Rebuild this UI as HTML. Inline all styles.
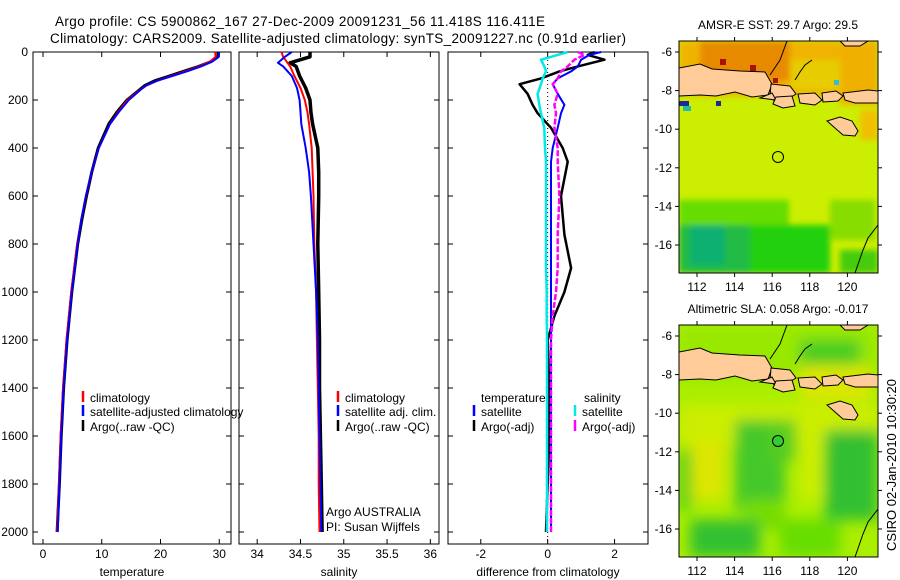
<!DOCTYPE html>
<html><head><meta charset="utf-8">
<style>
html,body{margin:0;padding:0;background:#fff;}
svg{display:block;font-family:"Liberation Sans",sans-serif;}
</style></head>
<body>
<svg id="root" width="900" height="580" viewBox="0 0 900 580" xmlns="http://www.w3.org/2000/svg">
<text x="55" y="26" font-size="13.5" textLength="490">Argo profile: CS 5900862_167 27-Dec-2009 20091231_56 11.418S 116.411E</text>
<text x="50" y="43" font-size="13.5" textLength="576">Climatology: CARS2009. Satellite-adjusted climatology: synTS_20091227.nc (0.91d earlier)</text>
<g id="panels"></g>

<!-- maps -->
<defs>
<clipPath id="clipTop"><rect x="679" y="41" width="199" height="232"/></clipPath>
<clipPath id="clipBot"><rect x="679" y="325" width="199" height="232"/></clipPath>
<filter id="blur6"><feGaussianBlur stdDeviation="7"/></filter>
<filter id="blur3"><feGaussianBlur stdDeviation="3"/></filter>
</defs>
<g clip-path="url(#clipTop)">
<rect x="679" y="41" width="199" height="232" fill="#ccee00"/>
<g filter="url(#blur3)">
<rect x="679" y="41" width="199" height="55" fill="#f0b400"/>
<rect x="700" y="41" width="90" height="40" fill="#e88a00"/>
<rect x="790" y="60" width="88" height="30" fill="#e6cc00"/>
<rect x="840" y="45" width="38" height="60" fill="#f0b000"/>
<rect x="860" y="110" width="18" height="30" fill="#f0c000"/>
<rect x="679" y="215" width="75" height="58" fill="#22bb44"/>
<rect x="690" y="225" width="35" height="40" fill="#10b070"/>
<rect x="750" y="225" width="80" height="48" fill="#22d011"/>
<rect x="679" y="200" width="110" height="25" fill="#66dd00"/>
<rect x="830" y="200" width="45" height="40" fill="#88dd00"/>
<rect x="840" y="250" width="38" height="23" fill="#44cc11"/>
</g>
<rect x="679" y="101" width="10" height="5" fill="#1a2a9a"/>
<rect x="683" y="106" width="8" height="5" fill="#22bbaa"/>
<rect x="716" y="101" width="5" height="5" fill="#1a2a9a"/>
<rect x="713" y="88" width="6" height="4" fill="#ffffff"/>
<rect x="834" y="80" width="5" height="5" fill="#33bbdd"/>
<rect x="720" y="59" width="6" height="6" fill="#aa1100"/>
<rect x="750" y="65" width="6" height="6" fill="#aa1100"/>
<rect x="773" y="78" width="5" height="5" fill="#aa1100"/>
<g id="landTop"></g>
<circle cx="778" cy="157" r="5.5" fill="none" stroke="#000"/>
</g>
<g clip-path="url(#clipBot)">
<rect x="679" y="325" width="199" height="232" fill="#aaee00"/>
<g filter="url(#blur6)">
<rect x="679" y="325" width="199" height="55" fill="#99e800"/>
<rect x="800" y="340" width="60" height="40" fill="#44cc22"/>
<rect x="679" y="405" width="199" height="40" fill="#ccee00"/>
<rect x="690" y="440" width="35" height="60" fill="#dde600"/>
<rect x="679" y="450" width="12" height="60" fill="#44cc22"/>
<rect x="735" y="420" width="50" height="90" fill="#44c82a"/>
<rect x="745" y="500" width="40" height="30" fill="#77dd00"/>
<rect x="768" y="420" width="28" height="40" fill="#55cc22"/>
<rect x="800" y="430" width="22" height="70" fill="#ccee00"/>
<rect x="825" y="430" width="53" height="90" fill="#33c030"/>
<rect x="690" y="520" width="70" height="37" fill="#33c030"/>
<rect x="780" y="520" width="60" height="37" fill="#66dd00"/>
<rect x="800" y="365" width="70" height="35" fill="#dde600"/>
</g>
<g id="landBot"></g>
<circle cx="778" cy="441" r="5.5" fill="#33cc33" stroke="#000"/>
</g>
<g id="mapAxes"></g>
<text transform="translate(896,465) rotate(-90)" text-anchor="middle" font-size="13">CSIRO 02-Jan-2010 10:30:20</text>
</svg>
<script>
// ---- profile data ----
const depthT = [0,20,40,60,80,100,120,140,160,200,250,300,400,500,600,700,800,1000,1200,1400,1600,1800,2000];
const tempArgo = [29.8,29.8,28.6,26.5,24.0,21.5,19.0,17.3,16.3,14.3,12.6,11.2,9.4,8.3,7.4,6.6,5.9,4.9,4.1,3.5,3.1,2.8,2.4];
const tempClim = [29.3,29.4,28.4,26.6,24.3,21.8,19.4,17.6,16.4,14.4,12.8,11.4,9.5,8.3,7.3,6.5,5.8,4.8,4.0,3.4,3.0,2.7,2.4];
const tempSat  = [30.0,29.9,28.8,26.9,24.6,22.0,19.4,17.5,16.5,14.6,12.9,11.4,9.5,8.3,7.3,6.5,5.9,4.9,4.1,3.5,3.1,2.8,2.5];
const depthS = [0,20,45,60,100,150,200,250,300,400,500,600,800,1000,1200,1400,1600,1800,2000];
const salArgo = [34.61,34.61,34.38,34.45,34.49,34.56,34.61,34.62,34.64,34.70,34.71,34.71,34.70,34.71,34.72,34.72,34.73,34.74,34.75];
const salClim = [34.28,34.30,34.35,34.38,34.43,34.50,34.55,34.58,34.60,34.63,34.64,34.65,34.66,34.68,34.69,34.70,34.71,34.71,34.72];
const salSat  = [34.40,34.32,34.24,34.30,34.40,34.46,34.49,34.50,34.51,34.56,34.60,34.62,34.65,34.68,34.70,34.71,34.72,34.73,34.74];
const depthD = [0,12,32,60,81,110,134,174,220,255,316,400,457,600,761,900,1000,1100,1200,1400,1600,1800,2000];
const diffTArgo = [1.4,1.2,1.7,0.9,0.35,-0.2,-0.84,-0.6,-0.45,-0.3,0.1,0.45,0.6,0.4,0.5,0.7,0.5,0.2,0.0,0.05,0.05,0.0,-0.05];
const diffTSat  = [1.6,1.25,1.0,0.9,0.7,0.3,0.15,0.3,0.5,0.4,0.3,0.15,0.1,0.1,0.1,0.1,0.1,0.1,0.1,0.1,0.1,0.1,0.1];
const diffSSat  = [0.6,0.3,-0.2,-0.1,-0.05,-0.15,-0.2,-0.3,-0.25,-0.2,-0.1,-0.08,-0.05,-0.05,-0.05,-0.05,-0.03,-0.03,-0.02,-0.02,-0.02,-0.02,-0.02];
const diffSArgo = [0.9,1.1,0.8,0.6,0.4,0.3,0.15,0.3,0.2,0.25,0.2,0.3,0.3,0.35,0.3,0.3,0.25,0.15,0.1,0.1,0.1,0.1,0.1];
const depthTicks = [0,200,400,600,800,1000,1200,1400,1600,1800,2000];
const tempTicks = [0,10,20,30];
const salTicks = [34,34.5,35,35.5,36];
const salTickLabels = ["34","34.5","35","35.5","36"];
const diffTicks = [-2,0,2];

const NS="http://www.w3.org/2000/svg";
const root=document.getElementById('panels');
function mk(tag,attrs,parent){const e=document.createElementNS(NS,tag);for(const k in attrs)e.setAttribute(k,attrs[k]);(parent||root).appendChild(e);return e;}
const Y0=52, Y1=544;
function yD(d){return 52 + d*0.24;}

function panel(name,x0,x1,xmin,xmax,xticks,xlabels,xtitle,showY){
  const g=mk('g',{});
  
  
  const sx=v=>x0+(v-xmin)/(xmax-xmin)*(x1-x0);
  const fr=mk('rect',{x:x0,y:Y0,width:x1-x0,height:Y1-Y0,fill:'none',stroke:'#000','stroke-width':1},g);
  
  
  depthTicks.forEach(d=>{
    const y=yD(d);
    mk('line',{x1:x0,x2:x0+5,y1:y,y2:y,stroke:'#000'},g);
    mk('line',{x1:x1,x2:x1-5,y1:y,y2:y,stroke:'#000'},g);
    if(showY){const t=mk('text',{x:x0-5,y:y+4,'font-size':12,'text-anchor':'end'},g);t.textContent=d;
      
      }
  });
  xticks.forEach((v,i)=>{
    const x=sx(v);
    mk('line',{x1:x,x2:x,y1:Y0,y2:Y0+5,stroke:'#000'},g);
    mk('line',{x1:x,x2:x,y1:Y1,y2:Y1-5,stroke:'#000'},g);
    const t=mk('text',{x:x,y:558,'font-size':12,'text-anchor':'middle'},g);t.textContent=xlabels[i];
    
    
  });
  const tt=mk('text',{x:(x0+x1)/2,y:576,'font-size':12,'text-anchor':'middle'},g);tt.textContent=xtitle;
  
  
  return {g,sx};
}
function line(p,depths,vals,color,w,name,dash){
  const pts=depths.map((d,i)=>p.sx(vals[i]).toFixed(1)+','+yD(d).toFixed(1)).join(' ');
  const a={points:pts,fill:'none',stroke:color,'stroke-width':w,'stroke-linejoin':'round'};
  if(dash)a['stroke-dasharray']=dash;
  const l=mk('polyline',a,p.g);
  
  
}
function legend(g,x,y,color,label,name){
  mk('line',{x1:x,x2:x,y1:y-6,y2:y+5,stroke:color,'stroke-width':2.5},g);
  const t=mk('text',{x:x+7,y:y+5,'font-size':12},g);t.textContent=label;
  
  
}

// temperature
const pT=panel('temperature',33,231,-1.7,32,tempTicks,tempTicks.map(String),'temperature',true);
line(pT,depthT,tempArgo,'#000',3,'argo-temperature-line');
line(pT,depthT,tempClim,'#f00',2,'climatology-temperature-line');
line(pT,depthT,tempSat,'#00f',2,'satellite-temperature-line');
legend(pT.g,83,397,'#f00','climatology','legend-climatology');
legend(pT.g,83,411,'#00f','satellite-adjusted climatology','legend-satellite-adjusted');
legend(pT.g,83,426,'#000','Argo(..raw -QC)','legend-argo');

// salinity
const pS=panel('salinity',239,439,33.79,36.1,salTicks,salTickLabels,'salinity',false);
line(pS,depthS,salArgo,'#000',3.5,'argo-salinity-line');
line(pS,depthS,salClim,'#f00',2,'climatology-salinity-line');
line(pS,depthS,salSat,'#00f',2,'satellite-salinity-line');
legend(pS.g,338,397,'#f00','climatology','legend-climatology');
legend(pS.g,338,411,'#00f','satellite adj. clim.','legend-satellite-adj');
legend(pS.g,338,426,'#000','Argo(..raw -QC)','legend-argo');
const a1=mk('text',{x:326,y:516,'font-size':12},pS.g);a1.textContent='Argo AUSTRALIA';


const a2=mk('text',{x:326,y:531,'font-size':12},pS.g);a2.textContent='PI: Susan Wijffels';



// difference
const pD=panel('difference',448,648,-2.98,3,diffTicks,diffTicks.map(String),'difference from climatology',false);
mk('line',{x1:pD.sx(0),x2:pD.sx(0),y1:Y0,y2:Y1,stroke:'#000','stroke-dasharray':'1,3'},pD.g);
line(pD,depthD,diffTArgo,'#000',2.5,'argo-temperature-diff-line');
line(pD,depthD,diffSSat,'#00e8e8',2.5,'satellite-salinity-diff-line');
line(pD,depthD,diffTSat,'#00f',2,'satellite-temperature-diff-line');
line(pD,depthD,diffSArgo,'#f0f',2.5,'argo-salinity-diff-line','6,2');
const lt=mk('text',{x:481,y:402,'font-size':12},pD.g);lt.textContent='temperature';


const ls=mk('text',{x:584,y:402,'font-size':12},pD.g);ls.textContent='salinity';


legend(pD.g,474,411,'#00f','satellite','legend-temp-satellite');
legend(pD.g,474,426,'#000','Argo(-adj)','legend-temp-argo');
legend(pD.g,575,411,'#00e8e8','satellite','legend-sal-satellite');
legend(pD.g,575,426,'#f0f','Argo(-adj)','legend-sal-argo');

// ---- maps ----
const lonTicks=[112,114,116,118,120];
const latTicks=[-6,-8,-10,-12,-14,-16];
const lx=l=>697+(l-112)*18.8;
const ly=(l,top)=>top+11+(-6-l)*19.3;
const land=[
 "679,68 700,64 712,69 740,71 765,72 772,84 768,95 752,97 735,92 716,96 700,95 679,96",
 "771,84 790,86 796,94 786,100 778,104 770,97",
 "772,93 776,100 760,98",
 "776,97 792,96 795,106 783,108 773,104",
 "798,94 815,93 822,100 815,105 800,103",
 "822,93 836,91 843,96 838,101 823,102",
 "843,93 868,90 878,91 878,103 855,103 845,100",
 "827,121 840,117 852,121 858,131 855,136 843,135 835,128",
 "840,41 868,41 860,46 845,46"
];
function drawLand(id,dy){
  const g=document.getElementById(id);
  land.forEach(p=>{
    const pts=p.split(' ').map(s=>{const [x,y]=s.split(',').map(Number);return x+','+(y+dy);}).join(' ');
    const e=mk('polygon',{points:pts,fill:'#ffcc99',stroke:'#000','stroke-width':1},g);
    
    
  });
  mk('polyline',{points:[[787,41],[780,60],[770,75]].map(a=>a[0]+','+(a[1]+dy)).join(' '),fill:'none',stroke:'#000'},g);
  mk('polyline',{points:[[812,60],[805,65],[800,72],[795,80]].map(a=>a[0]+','+(a[1]+dy)).join(' '),fill:'none',stroke:'#000'},g);
  mk('polyline',{points:[[878,225],[868,238],[863,250],[855,273]].map(a=>a[0]+','+(a[1]+dy)).join(' '),fill:'none',stroke:'#000'},g);
}
drawLand('landTop',0);
drawLand('landBot',284);
const ma=document.getElementById('mapAxes');
[[41,'AMSR-E SST: 29.7 Argo: 29.5','sst-map-title'],[325,'Altimetric SLA: 0.058 Argo: -0.017','sla-map-title']].forEach(([top,title,nm])=>{
  const fr=mk('rect',{x:679,y:top,width:199,height:232,fill:'none',stroke:'#000'},ma);
  
  
  const t=mk('text',{x:778,y:top-12,'font-size':12,'text-anchor':'middle'},ma);t.textContent=title;
  
  
  lonTicks.forEach(l=>{
    const x=lx(l);
    mk('line',{x1:x,x2:x,y1:top,y2:top-4,stroke:'#000'},ma);
    mk('line',{x1:x,x2:x,y1:top+232,y2:top+236,stroke:'#000'},ma);
    const tx=mk('text',{x:x,y:top+250,'font-size':12,'text-anchor':'middle'},ma);tx.textContent=l;
    
    
  });
  latTicks.forEach(l=>{
    const y=ly(l,top);
    mk('line',{x1:679,x2:675,y1:y,y2:y,stroke:'#000'},ma);
    mk('line',{x1:878,x2:882,y1:y,y2:y,stroke:'#000'},ma);
    const tx=mk('text',{x:672,y:y+4,'font-size':12,'text-anchor':'end'},ma);tx.textContent=l;
    
    
  });
});
</script>
</body></html>
